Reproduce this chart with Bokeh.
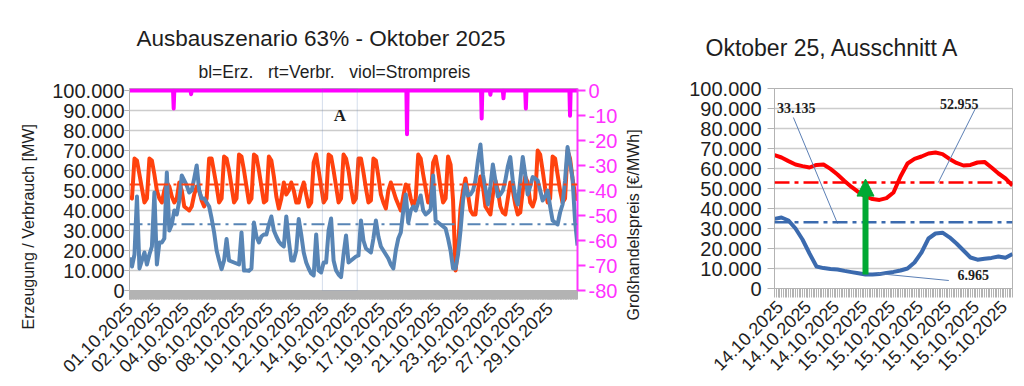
import math
from bokeh.plotting import figure
from bokeh.models import (Range1d, LinearAxis, FixedTicker, Span, BoxAnnotation,
                          Label, Title, Arrow, NormalHead)
from bokeh.layouts import row
from bokeh.embed import file_html
from bokeh.resources import INLINE

FONT = "Liberation Sans"

# ---------------- data: main chart (October 2025, 4-hour steps, values in 1000 MW) -------------
step_hours = 4
load_kmw = [  # Verbrauch (red)
    47, 46, 66, 65, 58, 51,   44, 46, 66, 65, 58, 50,   46, 44, 50, 54, 52, 47,
    44, 46, 54, 50, 42, 41,   40, 42, 48, 52, 50, 45,   42, 46, 66, 66, 59, 52,
    44, 46, 67, 66, 60, 52,   44, 46, 68, 67, 60, 52,   44, 46, 68, 67, 60, 52,
    44, 45, 67, 65, 57, 47,   41, 46, 54, 48, 50, 54,   50, 44, 44, 50, 54, 48,
    42, 44, 64, 68, 60, 52,   44, 46, 68, 67, 60, 52,   44, 46, 68, 66, 60, 51,
    44, 46, 66, 66, 59, 51,   44, 45, 66, 65, 57, 48,   44, 41, 50, 54, 50, 46,
    43, 40, 47, 53, 52, 46,   42, 46, 68, 66, 58, 51,   44, 46, 64, 67, 60, 51,
    44, 46, 67, 63, 45, 10,   22, 41, 50, 56, 48, 40,   38, 38, 50, 57, 52, 42,
    40, 38, 48, 55, 50, 42,   39, 38, 46, 54, 50, 43,   38, 39, 50, 57, 54, 44,
    42, 46, 70, 68, 60, 51,   44, 46, 67, 66, 58, 50,   44, 46, 70, 66, 56, 48,
    45,
]
gen_kmw = [  # Erzeugung (blue)
    16.5, 12, 18, 47, 11, 15,     19, 13, 18, 22, 49, 13,       24, 24, 26, 59, 30, 33,
    40, 38, 45, 57.5, 55, 52.5,   49, 50, 56, 62.5, 50, 46,     46, 44, 42, 36, 29, 20,
    15, 10.7, 15, 25.7, 15, 14.5, 14, 13.5, 13, 29, 10, 10,     9.8, 11, 34, 27, 24, 27,
    28, 28, 33, 37, 30, 27,       24.5, 23, 22, 37, 25, 15,     15, 20, 35.7, 28, 19, 14,
    11, 8.5, 7.5, 28, 10, 9,      14, 14, 30, 36, 15, 10,       8, 6.7, 18, 27.5, 14, 15,
    16, 17, 17.5, 35, 25, 21,     20, 19, 26, 35, 27, 22,       20, 18, 16, 13, 11, 20,
    26, 29, 40, 48, 34, 40,       42, 40, 44, 47.5, 40, 38,     39, 40.5, 57.5, 35, 34, 33,
    32, 31, 26, 20, 11, 11,       18, 30, 45, 53, 47.5, 48,     50, 55, 65, 73, 58, 51,
    43, 52, 63, 55, 47, 48,       50, 55, 62, 66.7, 55, 46.7,   43, 55, 66.7, 58, 48, 52,
    56.7, 56, 55, 50, 45, 47,     50, 42, 35, 34, 33, 39,       43, 55, 71.7, 64, 56, 35,
    22.5,
]
# negative wholesale prices (hour of month, EUR/MWh); price is 0 otherwise
neg_price_hours = [71, 99, 446, 566, 580, 601, 637, 708]
neg_price_values = [-7.2, -1.5, -17.5, -11.2, -1.7, -3.1, -7.2, -10.1]

gen_mean = 33135
load_mean = 52955

main_tick_labels = ["01.10.2025", "02.10.2025", "04.10.2025", "06.10.2025", "08.10.2025",
                    "10.10.2025", "12.10.2025", "14.10.2025", "16.10.2025", "17.10.2025",
                    "19.10.2025", "21.10.2025", "23.10.2025", "25.10.2025", "27.10.2025",
                    "29.10.2025"]
label_every_hours = 45
y_tick_values = [0, 10000, 20000, 30000, 40000, 50000, 60000, 70000, 80000, 90000, 100000]
y_tick_labels = ["0", "10.000", "20.000", "30.000", "40.000", "50.000", "60.000",
                 "70.000", "80.000", "90.000", "100.000"]
price_ticks = [0, -10, -20, -30, -40, -50, -60, -70, -80]
price_tick_labels = ["0", "-10", "-20", "-30", "-40", "-50", "-60", "-70", "-80"]
month_hours = 720
ausschnitt_a_hours = (310, 366)

# ---------------- data: detail chart "Ausschnitt A" (hourly, 1000 MW) ----------------
zoom_load_kmw = [66.7, 65.5, 63.7, 62.0, 61.2, 60.5, 61.8, 62.0, 59.8, 57.0, 53.8, 50.8,
                 48.2, 46.0, 44.7, 44.3, 45.2, 48.0, 56.0, 62.5, 64.8, 66.0, 67.5, 68.0,
                 67.2, 64.8, 62.8, 61.5, 61.8, 63.0, 63.3, 60.5, 57.5, 55.0, 51.5]
zoom_gen_kmw = [34.8, 35.5, 34.0, 30.0, 24.5, 17.5, 11.0, 10.2, 9.8, 9.5, 8.8, 8.2,
                7.6, 6.965, 7.0, 7.2, 7.8, 8.3, 9.0, 10.0, 13.0, 18.0, 25.0, 27.5,
                27.9, 25.6, 22.5, 19.0, 15.5, 14.4, 14.9, 15.3, 16.0, 15.4, 17.2]
zoom_tick_labels = ["14.10.2025", "14.10.2025", "14.10.2025", "15.10.2025", "15.10.2025",
                    "15.10.2025", "15.10.2025", "15.10.2025", "15.10.2025"]
zoom_first_tick = 0.75
zoom_tick_every = 4
gen_min_value = 6965
arrow_top_value = 54700

# ---------------- colours ----------------
C_LOAD = "#ff420e"
C_GEN = "#5885b5"
C_PRICE = "#ff00ff"
C_PRICE_AXIS = "#ff33ff"
C_GRID = "#cccccc"
C_AXIS = "#b3b3b3"
C_TEXT = "#1e1e1e"
C_ZLOAD = "#ff0000"
C_ZGEN = "#3b6aae"
C_GREEN = "#00a933"
C_LEADER = "#5b7fb5"

PAGE_H = 386


def style_y_axis(ax, ticks, labels, color=C_TEXT, line_color=C_AXIS, tick_out=5, standoff=2):
    ax.ticker = FixedTicker(ticks=ticks)
    ax.major_label_overrides = dict(zip(ticks, labels))
    ax.major_label_text_font = FONT
    ax.major_label_text_font_size = "20px"
    ax.major_label_text_color = color
    ax.major_tick_out = tick_out
    ax.major_tick_in = 0
    ax.minor_tick_out = 0
    ax.minor_tick_in = 0
    ax.major_tick_line_color = line_color
    ax.axis_line_color = line_color
    ax.major_label_standoff = standoff


def style_x_axis(ax, ticks, labels, minor):
    ax.ticker = FixedTicker(ticks=ticks, minor_ticks=minor)
    ax.major_label_overrides = dict(zip(ticks, labels))
    ax.major_label_orientation = math.pi / 4
    ax.major_label_text_font = FONT
    ax.major_label_text_font_size = "18px"
    ax.major_label_text_color = C_TEXT
    ax.major_tick_out = 9
    ax.major_tick_in = 0
    ax.minor_tick_out = 9
    ax.minor_tick_in = 0
    ax.major_tick_line_color = C_AXIS
    ax.minor_tick_line_color = C_AXIS
    ax.axis_line_color = C_AXIS
    ax.major_label_standoff = 6


def axis_title(text, offset, standoff):
    return Title(text=text, align="left", offset=offset, standoff=standoff,
                 text_font=FONT, text_font_size="16px", text_font_style="normal",
                 text_color=C_TEXT)


# ================= main chart =================
hours = [i * step_hours for i in range(len(load_kmw))]
load = [v * 1000 for v in load_kmw]
gen = [v * 1000 for v in gen_kmw]

price_x, price_y = [0], [0]
for h, v in zip(neg_price_hours, neg_price_values):
    price_x += [h - 1, h, h + 1]
    price_y += [0, v, 0]
price_x.append(month_hours)
price_y.append(0)

p = figure(frame_width=448, frame_height=202, output_backend="svg", toolbar_location=None,
           x_range=Range1d(0, month_hours), y_range=Range1d(0, 101000),
           min_border_left=129, min_border_right=43, min_border_top=86, min_border_bottom=98)
p.extra_y_ranges = {"price": Range1d(-80, 0.808)}
p.outline_line_color = C_AXIS

p.add_layout(Title(text="bl=Erz. \u00a0 rt=Verbr. \u00a0 viol=Strompreis", align="left", offset=69,
                   text_font=FONT, text_font_size="17.5px", text_font_style="normal",
                   text_color=C_TEXT, standoff=14), "above")
p.add_layout(Title(text="Ausbauszenario 63% - Oktober 2025", align="left", offset=7,
                   text_font=FONT, text_font_size="22.5px", text_font_style="normal",
                   text_color=C_TEXT, standoff=4), "above")

main_ticks = [i * label_every_hours for i in range(len(main_tick_labels))]
style_x_axis(p.xaxis[0], main_ticks, main_tick_labels, list(range(0, month_hours + 1)))
style_y_axis(p.yaxis[0], y_tick_values, y_tick_labels, tick_out=5, standoff=0)
p.xgrid.visible = False
p.ygrid.ticker = FixedTicker(ticks=y_tick_values)
p.ygrid.grid_line_color = C_GRID
p.ygrid.grid_line_width = 1.5
p.add_layout(axis_title("Erzeugung / Verbrauch [MW]", offset=-39, standoff=25), "left")

rax = LinearAxis(y_range_name="price")
style_y_axis(rax, price_ticks, price_tick_labels, color=C_PRICE_AXIS, line_color=C_PRICE_AXIS,
             tick_out=8, standoff=3)
rax.axis_line_width = 2
rax.major_tick_line_width = 2
p.add_layout(rax, "right")

p.line(hours, load, line_color=C_LOAD, line_width=4, line_join="round")
p.line(hours, gen, line_color=C_GEN, line_width=4, line_join="round")
p.add_layout(Span(location=load_mean, dimension="width", line_color=C_LOAD, line_width=2,
                  line_dash="13 5 3 5"))
p.add_layout(Span(location=gen_mean, dimension="width", line_color=C_GEN, line_width=2,
                  line_dash="13 5 3 5"))
p.line(price_x, price_y, y_range_name="price", line_color=C_PRICE, line_width=4,
       line_join="round")

p.add_layout(BoxAnnotation(left=ausschnitt_a_hours[0], right=ausschnitt_a_hours[1],
                           fill_color=None, line_color="#6f8fbf", line_width=1))
p.add_layout(Label(x=(ausschnitt_a_hours[0] + ausschnitt_a_hours[1]) / 2, y=87500, text="A",
                   text_font="Liberation Serif", text_font_style="bold", text_font_size="17px",
                   text_color=C_TEXT, text_align="center", text_baseline="middle"))

# narrow strip that carries the title of the price axis (reads bottom-to-top)
strip = figure(frame_width=1, frame_height=202, output_backend="svg", toolbar_location=None,
               x_axis_type=None, y_axis_type=None,
               min_border_left=21, min_border_right=8, min_border_top=86, min_border_bottom=98)
strip.outline_line_color = None
strip.add_layout(axis_title("Großhandelspreis [€/MWh]", offset=-30, standoff=0), "left")

# ================= detail chart =================
zt = list(range(len(zoom_load_kmw)))
zload = [v * 1000 for v in zoom_load_kmw]
zgen = [v * 1000 for v in zoom_gen_kmw]
zmax = zt[-1]

q = figure(frame_width=238, frame_height=200, output_backend="svg", toolbar_location=None,
           x_range=Range1d(0, zmax), y_range=Range1d(0, 100000),
           min_border_left=124, min_border_right=12, min_border_top=88, min_border_bottom=98)
q.outline_line_color = C_AXIS
q.add_layout(Title(text="Oktober 25, Ausschnitt A", align="left", offset=-69,
                   text_font=FONT, text_font_size="23px", text_font_style="normal",
                   text_color=C_TEXT, standoff=56), "above")
zticks = [zoom_first_tick + i * zoom_tick_every for i in range(len(zoom_tick_labels))]
style_x_axis(q.xaxis[0], zticks, zoom_tick_labels, [i * 0.25 for i in range(zmax * 4 + 1)])
style_y_axis(q.yaxis[0], y_tick_values, y_tick_labels, tick_out=7, standoff=6)
q.xgrid.visible = False
q.ygrid.ticker = FixedTicker(ticks=y_tick_values)
q.ygrid.grid_line_color = C_GRID
q.ygrid.grid_line_width = 1.5

q.add_layout(Span(location=load_mean, dimension="width", line_color=C_ZLOAD, line_width=2.5,
                  line_dash="15 5 4 5"))
q.add_layout(Span(location=gen_mean, dimension="width", line_color=C_ZGEN, line_width=2.5,
                  line_dash="15 5 4 5"))
q.line(zt, zload, line_color=C_ZLOAD, line_width=4, line_join="round")
q.line(zt, zgen, line_color=C_ZGEN, line_width=4, line_join="round")

t_min = zt[zgen.index(min(zgen))]
q.add_layout(Arrow(end=NormalHead(size=17, fill_color=C_GREEN, line_color=C_GREEN),
                   x_start=t_min, y_start=gen_min_value, x_end=t_min, y_end=arrow_top_value,
                   line_color=C_GREEN, line_width=6))

# callout labels with leader lines
q.segment(x0=[2.7, 28.7, t_min + 1.7], y0=[85500, 90000, 7500],
          x1=[9.0, 23.4, 24.9], y1=[32500, 53000, 4000],
          line_color=C_LEADER, line_width=1)


def de_num(v):
    return f"{v:,}".replace(",", ".")


for x, y, txt in [(3.1, 90500, de_num(gen_mean)), (26.4, 92500, de_num(load_mean)),
                  (28.4, 7000, de_num(gen_min_value))]:
    q.add_layout(Label(x=x, y=y, text=txt, text_font="Liberation Serif",
                       text_font_style="bold", text_font_size="14px", text_color=C_TEXT,
                       text_align="center", text_baseline="middle"))

layout = row(p, strip, q)
open("out.html", "w").write(file_html(layout, INLINE))
